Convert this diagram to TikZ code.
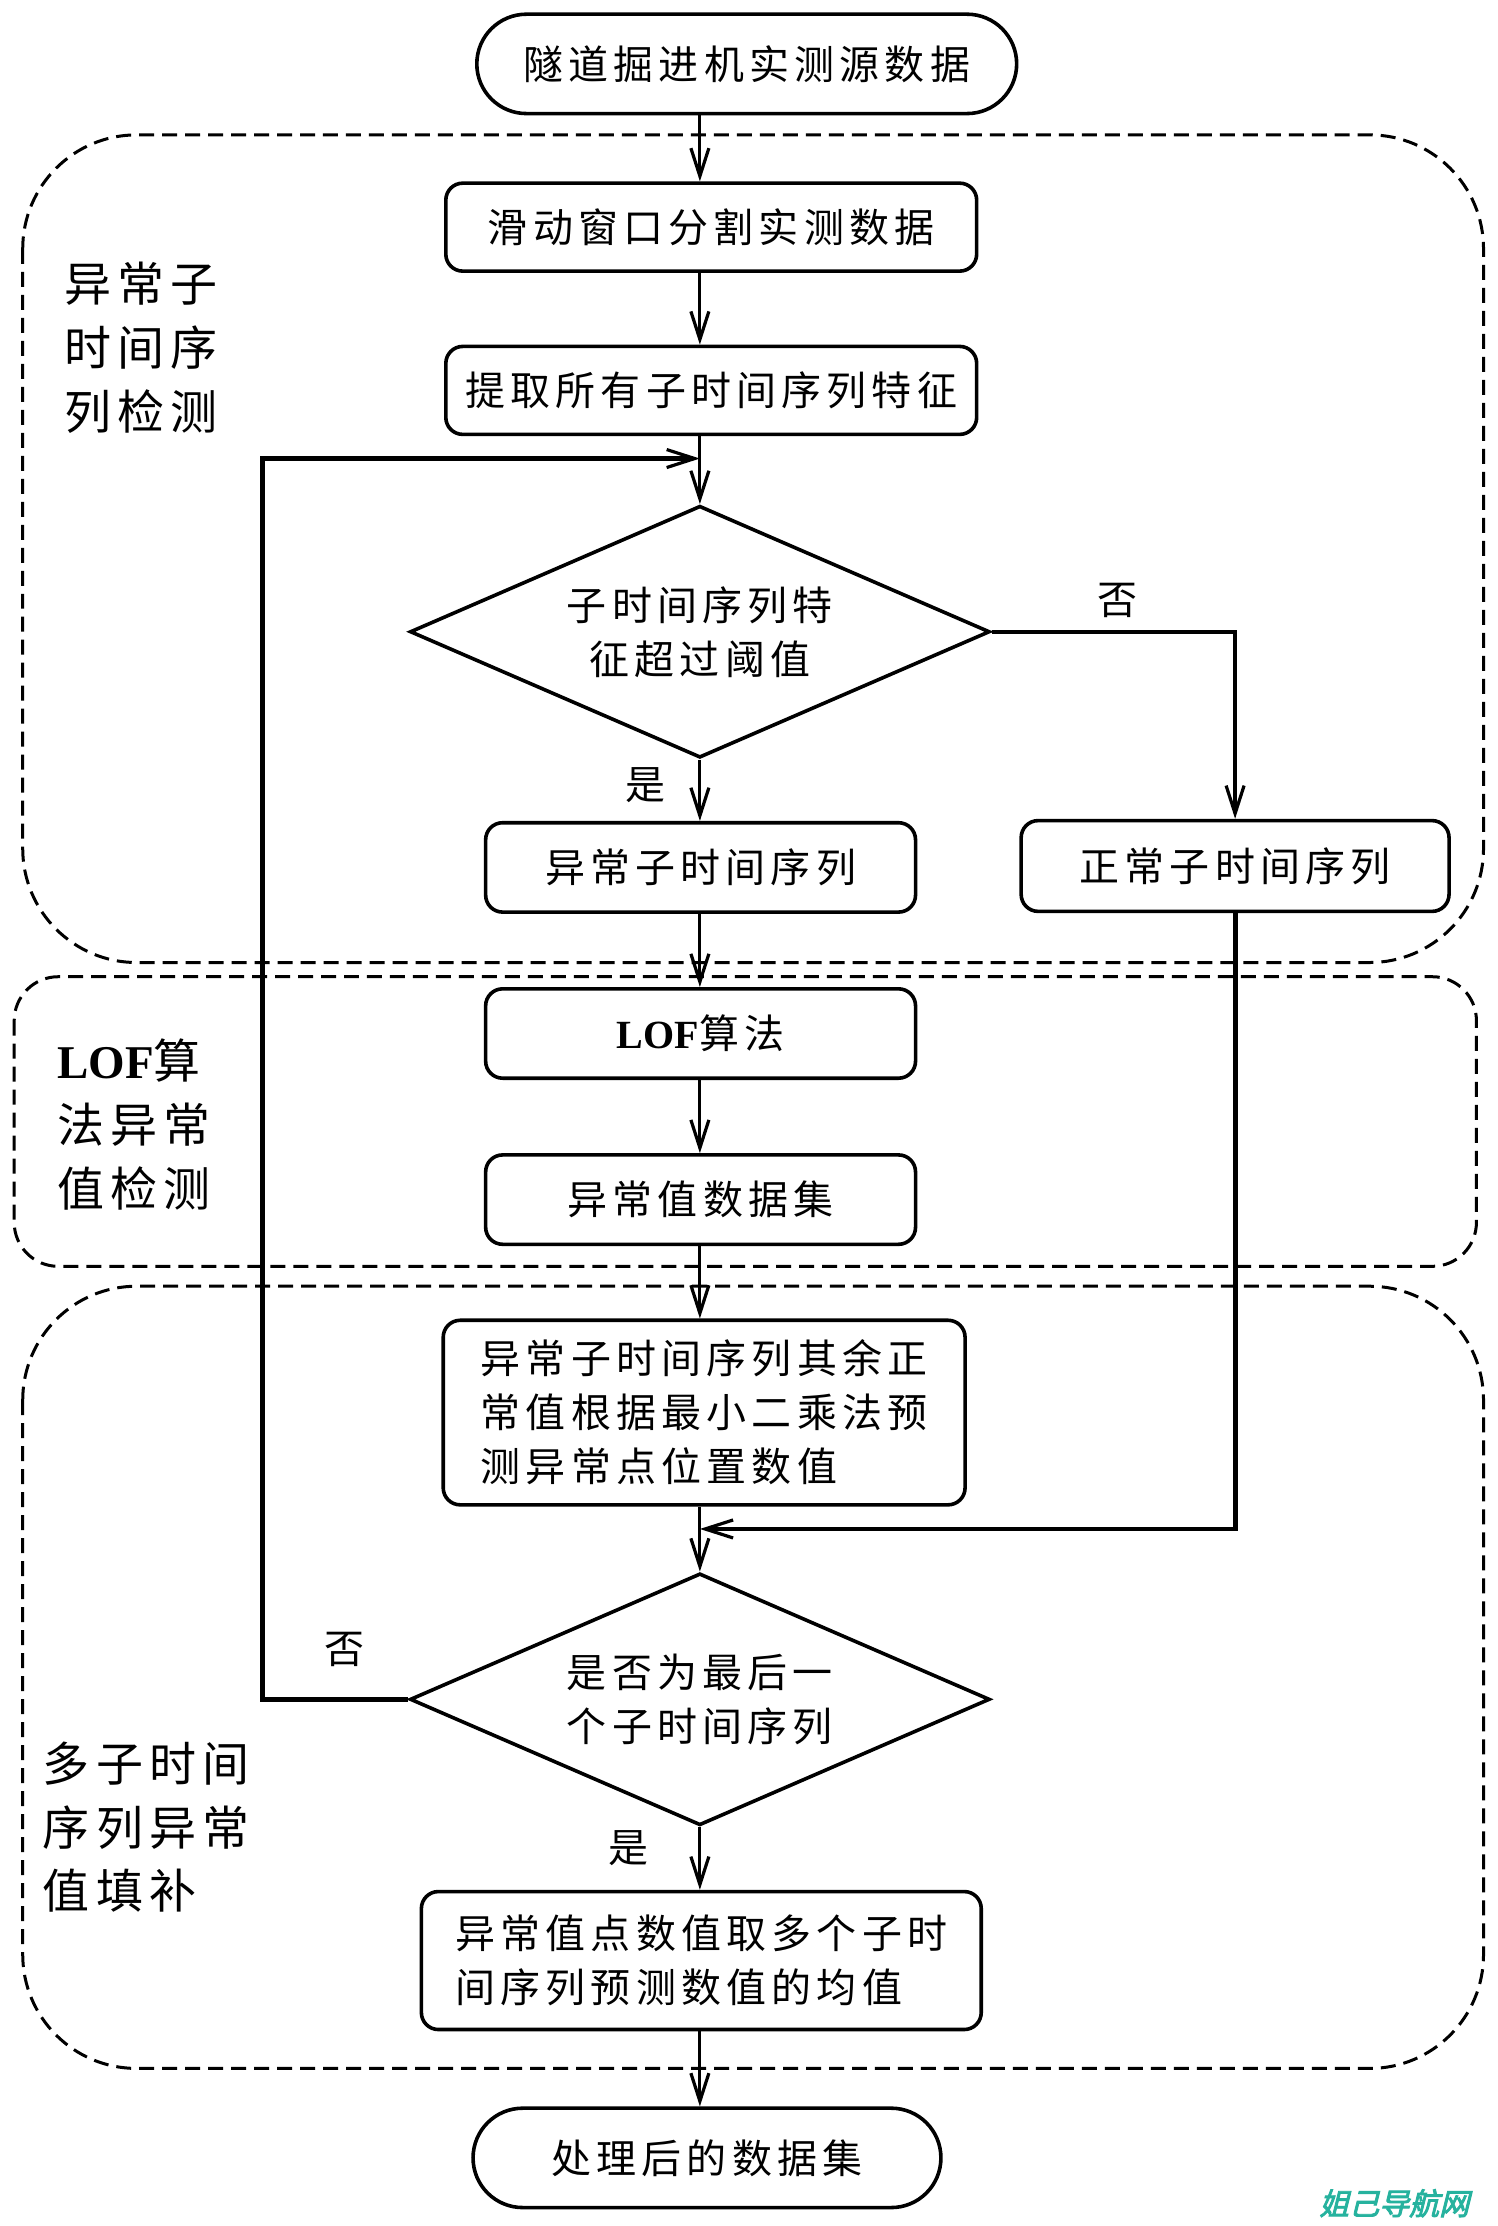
\documentclass[tikz,border=0pt]{standalone}
\usepackage{fontspec}
\setmainfont{Liberation Serif}
\newfontfamily\cjk[LetterSpace=13]{Noto Sans CJK SC}
\newfontfamily\wmfont[FakeBold=3,FakeSlant=0.25]{Noto Sans CJK SC}
\usetikzlibrary{shapes.geometric,shapes.misc,arrows.meta}
\definecolor{wmteal}{RGB}{38,178,158}
\tikzset{
  base/.style={draw, line width=1.8pt, font=\cjk\fontsize{20}{27}\selectfont, align=center, inner sep=0pt},
  procbox/.style={base, rectangle, rounded corners=8.5pt},
  termbox/.style={base, rounded rectangle, minimum height=49.7pt},
  decision/.style={base, diamond, aspect=2.3, minimum width=290pt, minimum height=126pt},
  group/.style={draw, line width=1.5pt, dash pattern=on 7.5pt off 4pt},
  grouplabel/.style={font=\cjk\fontsize{23.5}{32}\selectfont, align=left, anchor=west, inner sep=0pt},
  yn/.style={font=\cjk\fontsize{20}{24}\selectfont, inner sep=0pt},
  arr/.style={line width=1.6pt, -{Straight Barb[length=14pt,width=9pt,line width=1.6pt]}},
}
\begin{document}
\begin{tikzpicture}[x=0.71pt,y=-0.71pt]
\fill[white] (0,0) rectangle (1055,1568);
\useasboundingbox (0,0) rectangle (1055,1568);

% group frames
\draw[group, rounded corners=57pt] (16,95) rectangle (1045,678);
\draw[group, rounded corners=22pt] (10,688) rectangle (1040,892);
\draw[group, rounded corners=57pt] (16,906) rectangle (1045,1457);

% group labels
\node[grouplabel] (g1) at (45,245) {异常子\\时间序\\列检测};
\node[grouplabel] (g2) at (40,792) {{\rmfamily\bfseries LOF}算\\法异常\\值检测};
\node[grouplabel] (g3) at (30,1287) {多子时间\\序列异常\\值填补};

% column coordinate
\coordinate (col) at (493,0);

% nodes
\node[termbox, minimum width=270pt] (t1) at (526,45) {隧道掘进机实测源数据};
\node[procbox, minimum width=265.5pt, minimum height=44pt] (b1) at (501,160) {滑动窗口分割实测数据};
\node[procbox, minimum width=265.5pt, minimum height=44pt] (b2) at (501,275) {提取所有子时间序列特征};
\node[decision] (d1) at (493,445) {子时间序列特\\征超过阈值};
\node[procbox, minimum width=215pt, minimum height=44.7pt] (b3) at (493.5,611) {异常子时间序列};
\node[procbox, minimum width=214pt, minimum height=45.4pt] (b4) at (870,610) {正常子时间序列};
\node[procbox, minimum width=215pt, minimum height=44.7pt] (b5) at (493.5,728) {{\rmfamily\bfseries LOF}算法};
\node[procbox, minimum width=215pt, minimum height=44.7pt] (b6) at (493.5,845) {异常值数据集};
\node[procbox, minimum width=261pt, minimum height=92.3pt, align=left] (b7) at (496,995) {异常子时间序列其余正\\常值根据最小二乘法预\\测异常点位置数值};
\node[decision] (d2) at (493,1197) {是否为最后一\\个子时间序列};
\node[procbox, minimum width=280pt, minimum height=69pt, align=left] (b8) at (494,1381) {异常值点数值取多个子时\\间序列预测数值的均值};
\node[termbox, minimum width=234pt] (t2) at (498,1520) {处理后的数据集};

% yes / no labels
\node[yn] (n1) at (787,423) {否};
\node[yn] (y1) at (455,553) {是};
\node[yn] (n2) at (243,1162) {否};
\node[yn] (y2) at (443,1302) {是};

% helper coordinates
\coordinate (join) at (493,323);
\coordinate (loopx) at (185,323);
\coordinate (merge) at (493,1077);

% connectors
\draw[arr] (t1.south -| col) -- (b1.north -| col);
\draw[arr] (b1.south -| col) -- (b2.north -| col);
\draw[arr] (b2.south -| col) -- (d1.north);
\draw[arr] (d1.south) -- (b3.north -| col);
\draw[arr, line width=2.2pt] (d1.east) -| (b4.north);
\draw[arr] (b3.south -| col) -- (b5.north -| col);
\draw[arr] (b5.south -| col) -- (b6.north -| col);
\draw[arr] (b6.south -| col) -- (b7.north -| col);
\draw[arr] (b7.south -| col) -- (d2.north);
\draw[arr, line width=2.4pt] (b4.south) |- (merge);
\draw[arr, line width=2.6pt] (d2.west) -| (loopx) -- (join);
\draw[arr] (d2.south) -- (b8.north -| col);
\draw[arr] (b8.south -| col) -- (t2.north -| col);

% watermark
\node[font=\wmfont\fontsize{15}{15}\selectfont, text=wmteal, inner sep=0pt] (wm) at (982,1552) {姐己导航网};
\end{tikzpicture}
\end{document}
